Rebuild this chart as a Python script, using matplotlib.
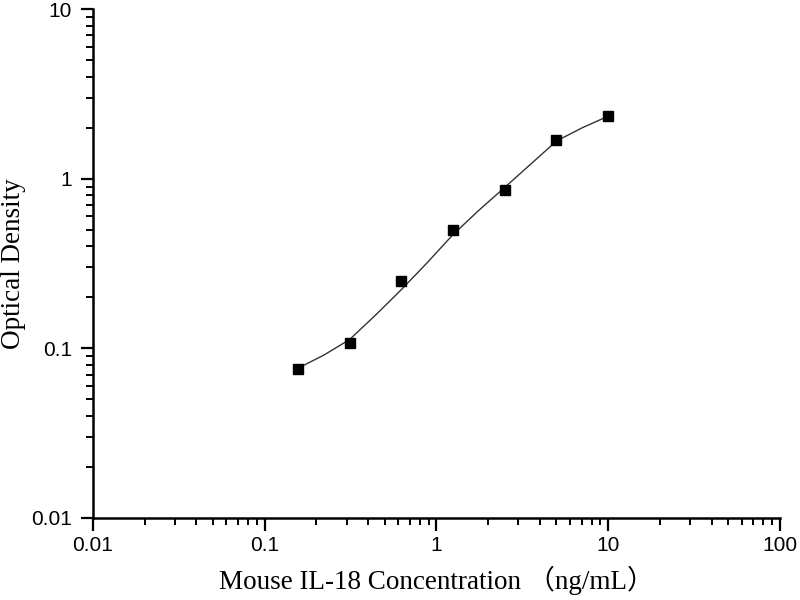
import matplotlib
matplotlib.use("Agg")
import matplotlib.pyplot as plt
from matplotlib.ticker import LogLocator, NullFormatter

# Standard points
conc = [0.156, 0.3125, 0.625, 1.25, 2.5, 5, 10]
od = [0.076, 0.108, 0.251, 0.497, 0.855, 1.69, 2.34]

# Fitted curve
curve_x = [0.156, 0.221, 0.3125, 0.442, 0.625, 0.884, 1.25, 1.77, 2.5, 3.54, 5, 7.07, 10]
curve_y = [0.0763, 0.0912, 0.1128, 0.157, 0.222, 0.320, 0.469, 0.653, 0.890, 1.22, 1.67, 2.00, 2.34]

x_ticks = [0.01, 0.1, 1, 10, 100]
x_tick_labels = ["0.01", "0.1", "1", "10", "100"]
y_ticks = [0.01, 0.1, 1, 10]
y_tick_labels = ["0.01", "0.1", "1", "10"]

fig = plt.figure(figsize=(8, 6), dpi=100)
ax = fig.add_axes([0.116, 0.1367, 0.859, 0.848])

ax.plot(curve_x, curve_y, color="#333333", linewidth=1.0, zorder=2)
ax.plot(conc, od, linestyle="none", marker="s", markersize=7.5,
        color="black", zorder=3)

ax.set_xscale("log")
ax.set_yscale("log")
ax.set_xlim(0.01, 100)
ax.set_ylim(0.01, 10)

ax.set_xticks(x_ticks)
ax.set_xticklabels(x_tick_labels)
ax.set_yticks(y_ticks)
ax.set_yticklabels(y_tick_labels)
ax.xaxis.set_minor_locator(LogLocator(base=10, subs=range(2, 10)))
ax.yaxis.set_minor_locator(LogLocator(base=10, subs=range(2, 10)))
ax.xaxis.set_minor_formatter(NullFormatter())
ax.yaxis.set_minor_formatter(NullFormatter())

for s in ["top", "right"]:
    ax.spines[s].set_visible(False)
for s in ["left", "bottom"]:
    ax.spines[s].set_linewidth(1.8)

ax.tick_params(which="major", direction="out", length=9, width=1.6,
               labelsize=15)
ax.tick_params(axis="x", which="major", pad=4)
ax.tick_params(axis="y", which="major", pad=6)
ax.tick_params(which="minor", direction="out", length=5, width=1.4)
for lab in ax.get_xticklabels() + ax.get_yticklabels():
    lab.set_family(["Liberation Sans", "DejaVu Sans"])

ax.set_xlabel("Mouse IL-18 Concentration （ng/mL）",
              family=["Liberation Serif", "Noto Sans CJK SC"], fontsize=19.5,
              labelpad=8)
ax.set_ylabel("Optical Density",
              family=["Liberation Serif", "Noto Sans CJK SC"], fontsize=19.5,
              labelpad=4)

fig.savefig("out.png", dpi=100)
